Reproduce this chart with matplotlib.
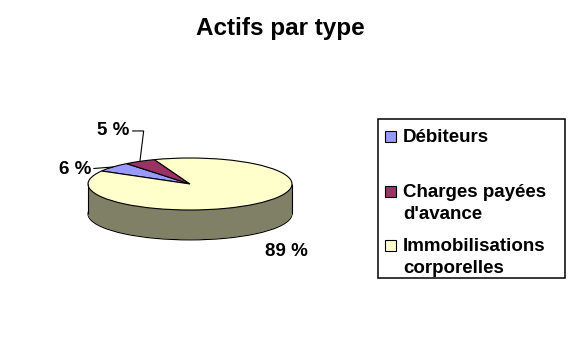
import matplotlib
matplotlib.use('Agg')
import matplotlib.pyplot as plt
import numpy as np
from matplotlib.colors import to_rgb
from matplotlib.patches import Rectangle

# données
categories = ['Débiteurs', "Charges payées\nd'avance", 'Immobilisations\ncorporelles']
valeurs = [6, 5, 89]
etiquettes = ['6 %', '5 %', '89 %']
couleurs = ['#9999FF', '#993366', '#FFFFCC']

plt.rcParams['font.family'] = ['Liberation Sans', 'DejaVu Sans']

W, H = 570, 342
fig = plt.figure(figsize=(W / 100, H / 100), dpi=100)

# axe du camembert : rayon 102 px en x, 26 px en y
cx, cy, rx, ry = 190, 184, 102, 26
x0, x1 = -1.25, 1.25
y0, y1 = -2.6, 1.4
ax = fig.add_axes([(cx + x0 * rx) / W, (H - cy + y0 * ry) / H,
                   (x1 - x0) * rx / W, (y1 - y0) * ry / H])

profondeur = 1.15
n_couches = 50
sombres = [tuple(c * 0.5 for c in to_rgb(col)) for col in couleurs]

# côté (couches empilées)
for k in range(n_couches):
    dy = -profondeur + k * profondeur / n_couches
    if k == 0:
        wp = dict(edgecolor='black', linewidth=0.8)
    else:
        wp = dict(edgecolor='none', linewidth=0)
    ax.pie(valeurs, colors=sombres, startangle=150, counterclock=False,
           center=(0, dy), wedgeprops=wp)
ax.vlines([-1, 1], -profondeur, 0, colors='black', linewidth=0.8)

# dessus
wedges, _ = ax.pie(valeurs, colors=couleurs, startangle=150, counterclock=False,
                   wedgeprops=dict(edgecolor='black', linewidth=0.8))

ax.set_aspect('auto')
ax.set_xlim(x0, x1)
ax.set_ylim(y0, y1)
ax.axis('off')

# étiquettes
taille = 13.5
pos_texte = [(-1.13, 0.54), (-0.75, 2.04), (0.95, -2.58)]
for i, (w, lab, (tx, ty)) in enumerate(zip(wedges, etiquettes, pos_texte)):
    ang = np.deg2rad((w.theta1 + w.theta2) / 2)
    px, py = np.cos(ang), np.sin(ang)
    if i == 0:
        ax.annotate(lab, xy=(px, py), xytext=(tx, ty), ha='center', va='center',
                    fontsize=taille, fontweight='bold', annotation_clip=False,
                    arrowprops=dict(arrowstyle='-', lw=0.8, color='black',
                                    shrinkA=0, shrinkB=0))
    elif i == 1:
        ax.annotate(lab, xy=(px, py), xytext=(tx, ty), ha='center', va='center',
                    fontsize=taille, fontweight='bold', annotation_clip=False,
                    arrowprops=dict(arrowstyle='-', lw=0.8, color='black',
                                    shrinkA=0, shrinkB=0,
                                    connectionstyle='angle,angleA=0,angleB=83,rad=0'))
    else:
        ax.text(tx, ty, lab, ha='center', va='center', fontsize=taille,
                fontweight='bold')

# titre
fig.text(280 / W, 1 - 29 / H, 'Actifs par type', ha='center', va='center',
         fontsize=17.5, fontweight='bold')

# légende
fig.patches.append(Rectangle((378 / W, 1 - 278 / H), (565 - 378) / W, (278 - 119) / H,
                             transform=fig.transFigure, facecolor='white',
                             edgecolor='black', linewidth=1.1))
lignes_y = [137, 192, 246]
for cat, col, ly in zip(categories, couleurs, lignes_y):
    fig.patches.append(Rectangle((385 / W, 1 - (ly + 5) / H), 11 / W, 11 / H,
                                 transform=fig.transFigure, facecolor=col,
                                 edgecolor='black', linewidth=0.8))
    fig.text(403 / W, 1 - (ly - 8) / H, cat, ha='left', va='top', fontsize=taille,
             fontweight='bold', linespacing=1.35)

fig.savefig('out.png', dpi=100)
